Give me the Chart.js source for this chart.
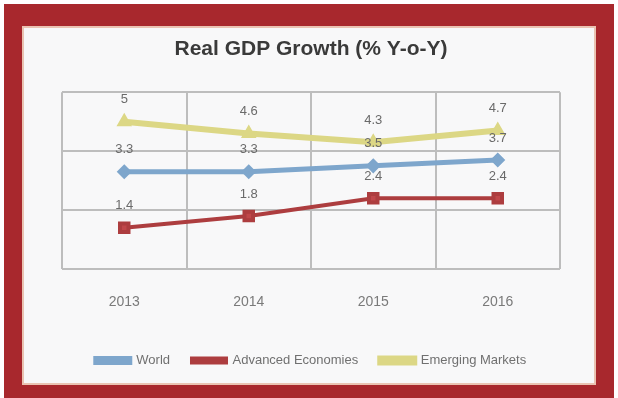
<!DOCTYPE html>
<html>
<head>
<meta charset="utf-8">
<script src="https://cdn.jsdelivr.net/npm/chart.js@4/dist/chart.umd.min.js"></script>
<style>
  html, body { margin: 0; padding: 0; background: #ffffff; }
  #frame {
    position: absolute; left: 4px; top: 4px;
    width: 610px; height: 394px; box-sizing: border-box;
    border-style: solid; border-color: #a8282d;
    border-width: 22px 18px 13px 18px;
    background: #f8f8f9;
    box-shadow: inset 0 0 0 2px #eac3b2;
  }
  #wrap { position: absolute; left: 0; top: 0; width: 574px; height: 359px; }
</style>
</head>
<body>
<div id="frame"><div id="wrap"><canvas id="chartCanvas"></canvas></div></div>
<script>
const years = ["2013", "2014", "2015", "2016"];
const world = [3.3, 3.3, 3.5, 3.7];
const advanced = [1.4, 1.8, 2.4, 2.4];
const emerging = [5, 4.6, 4.3, 4.7];
const yTicks = [0, 2, 4, 6];

const FONT = "'Liberation Sans', Arial, sans-serif";

// draws the value above each point, like the Excel data labels
const valueLabels = {
  id: "valueLabels",
  afterDatasetsDraw(chart) {
    const ctx = chart.ctx;
    ctx.save();
    ctx.font = "13px " + FONT;
    ctx.fillStyle = "#6a6a6a";
    ctx.textAlign = "center";
    ctx.textBaseline = "middle";
    chart.data.datasets.forEach((ds, i) => {
      chart.getDatasetMeta(i).data.forEach((pt, j) => {
        ctx.fillText(String(ds.data[j]), pt.x, pt.y - 22);
      });
    });
    ctx.restore();
  }
};

const data = {
  labels: years,
  datasets: [
    {
      label: "World",
      data: world,
      borderColor: "#7ea6cc",
      backgroundColor: "#7ea6cc",
      borderWidth: 5,
      pointStyle: "rectRot",
      pointRadius: 4,
      tension: 0,
    },
    {
      label: "Advanced Economies",
      data: advanced,
      borderColor: "#ad3d3f",
      backgroundColor: "#c0474a",
      borderWidth: 4,
      pointStyle: "rect",
      pointRadius: 6,
      tension: 0,
    },
    {
      label: "Emerging Markets",
      data: emerging,
      borderColor: "#dcd785",
      backgroundColor: "#dcd785",
      borderWidth: 6,
      pointStyle: "triangle",
      pointRadius: 3,
      tension: 0,
    },
  ],
};

const config = {
  type: "line",
  data: data,
  plugins: [valueLabels],
  options: {
    responsive: true,
    maintainAspectRatio: false,
    animation: false,
    layout: { padding: { left: 40, right: 36, top: 11, bottom: 8 } },
    plugins: {
      title: {
        display: true,
        text: "Real GDP Growth (% Y-o-Y)",
        color: "#3a3a3a",
        font: { family: FONT, size: 21, weight: "bold" },
        padding: { top: 0, bottom: 30 },
      },
      legend: {
        position: "bottom",
        labels: {
          color: "#707070",
          font: { family: FONT, size: 13 },
          boxWidth: 34,
          boxHeight: 4,
          padding: 22,
        },
      },
      tooltip: { enabled: false },
    },
    scales: {
      x: {
        offset: true,
        grid: { offset: true, color: "#bdbdbd", lineWidth: 2, drawTicks: false },
        border: { display: false },
        ticks: { color: "#7a7a7a", font: { family: FONT, size: 14 }, padding: 25 },
        afterFit: (scale) => { scale.height = 63; },
      },
      y: {
        min: 0,
        max: 6,
        afterBuildTicks: (scale) => { scale.ticks = yTicks.map((v) => ({ value: v })); },
        grid: { color: "#bdbdbd", lineWidth: 2, drawTicks: false },
        border: { display: false },
        ticks: { display: false },
      },
    },
  },
};

const ctx = document.getElementById("chartCanvas").getContext("2d");
new Chart(ctx, config);
</script>
</body>
</html>
